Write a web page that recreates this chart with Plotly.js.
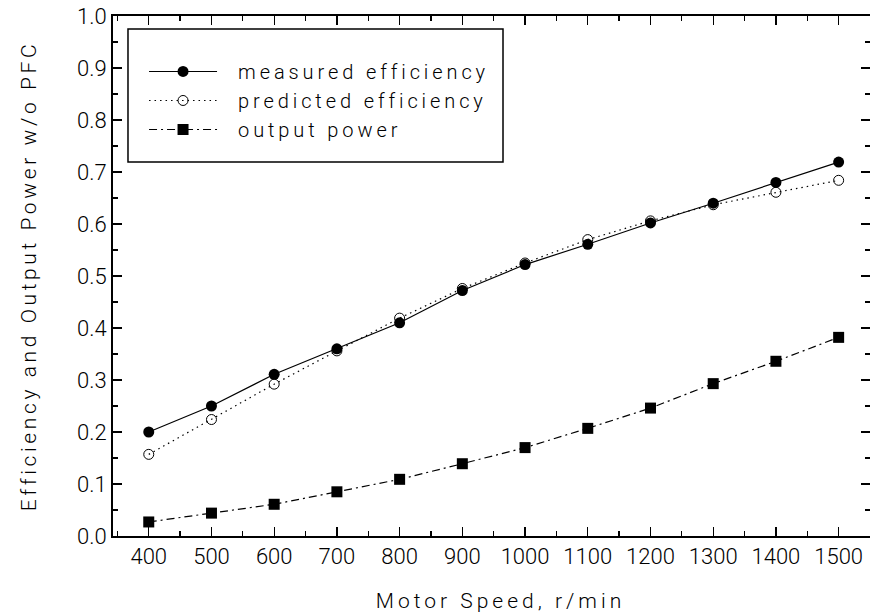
<!DOCTYPE html>
<html>
<head>
<meta charset="utf-8">
<script src="https://cdn.plot.ly/plotly-3.0.1.min.js"></script>
<style>
html,body{margin:0;padding:0;background:#fff;}
#chart{width:870px;height:616px;}
.ytitle{letter-spacing:3.6px;}
.xtitle{letter-spacing:4px;transform:translateX(9px);}
.legendtext{letter-spacing:3.9px;transform:translateX(16px);}
.legend .scrollbox{clip-path:none !important;}
</style>
</head>
<body>
<div id="chart"></div>
<script>
// Data
const speed = [400, 500, 600, 700, 800, 900, 1000, 1100, 1200, 1300, 1400, 1500];
const measuredEfficiency = [0.200, 0.250, 0.311, 0.360, 0.410, 0.472, 0.522, 0.561, 0.602, 0.640, 0.680, 0.719];
const predictedEfficiency = [0.157, 0.224, 0.292, 0.356, 0.419, 0.476, 0.525, 0.570, 0.606, 0.637, 0.661, 0.684];
const outputPower = [0.027, 0.044, 0.061, 0.085, 0.109, 0.139, 0.170, 0.207, 0.246, 0.293, 0.336, 0.382];
const seriesNames = ['measured efficiency', 'predicted efficiency', 'output power'];
const xTitle = 'Motor Speed, r/min';
const yTitle = 'Efficiency and Output Power w/o PFC';

const FONT = 'Roboto, Arial, "Liberation Sans", sans-serif';
const W = 300;

const traces = [
  {
    x: speed, y: measuredEfficiency, name: seriesNames[0],
    mode: 'lines+markers', type: 'scatter',
    line: {color: '#000', width: 1.2, dash: 'solid'},
    marker: {symbol: 'circle', size: 11, color: '#000'}
  },
  {
    x: speed, y: predictedEfficiency, name: seriesNames[1],
    mode: 'lines+markers', type: 'scatter',
    line: {color: '#000', width: 1.2, dash: '1.5px,4px'},
    marker: {symbol: 'circle-open', size: 10, color: '#000', line: {width: 1, color: '#000'}}
  },
  {
    x: speed, y: outputPower, name: seriesNames[2],
    mode: 'lines+markers', type: 'scatter',
    line: {color: '#000', width: 1.2, dash: '8px,4px,2px,4px'},
    marker: {symbol: 'square', size: 11, color: '#000'}
  }
];

const axisCommon = {
  showgrid: false, zeroline: false,
  showline: true, linecolor: '#000', linewidth: 2, mirror: 'ticks',
  ticks: 'inside', ticklen: 9, tickwidth: 1.3, tickcolor: '#000',
  tickfont: {family: FONT, size: 22, color: '#000', weight: W}
};

const layout = {
  width: 870, height: 616,
  margin: {l: 113, r: 0, t: 16, b: 80},
  paper_bgcolor: '#fff', plot_bgcolor: '#fff',
  font: {family: FONT, size: 21, color: '#000', weight: W},
  showlegend: true,
  legend: {
    x: 0.041, y: 0.9308, xanchor: 'left', yanchor: 'top',
    bgcolor: 'rgba(0,0,0,0)', borderwidth: 0,
    itemwidth: 68,
    font: {family: FONT, size: 20, color: '#000', weight: W}
  },
  xaxis: Object.assign({}, axisCommon, {
    range: [343, 1550], tick0: 400, dtick: 100,
    minor: {ticks: 'inside', ticklen: 5, tickwidth: 1.3, tickcolor: '#000', tick0: 350, dtick: 50},
    title: {text: xTitle, font: {family: FONT, size: 21, color: '#000', weight: W}, standoff: 25}
  }),
  yaxis: Object.assign({}, axisCommon, {
    range: [0, 1.0], tick0: 0, dtick: 0.1, tickformat: '.1f',
    minor: {ticks: 'inside', ticklen: 5, tickwidth: 1.3, tickcolor: '#000', tick0: 0, dtick: 0.05},
    title: {text: yTitle, font: {family: FONT, size: 21, color: '#000', weight: W}, standoff: 35}
  }),
  shapes: [{
    type: 'rect', xref: 'paper', yref: 'paper',
    x0: 0.0198, x1: 0.5152, y0: 0.7192, y1: 0.975,
    line: {color: '#000', width: 1.5}, fillcolor: 'rgba(0,0,0,0)'
  }]
};

Plotly.newPlot('chart', traces, layout, {displayModeBar: false, staticPlot: true});
</script>
</body>
</html>
